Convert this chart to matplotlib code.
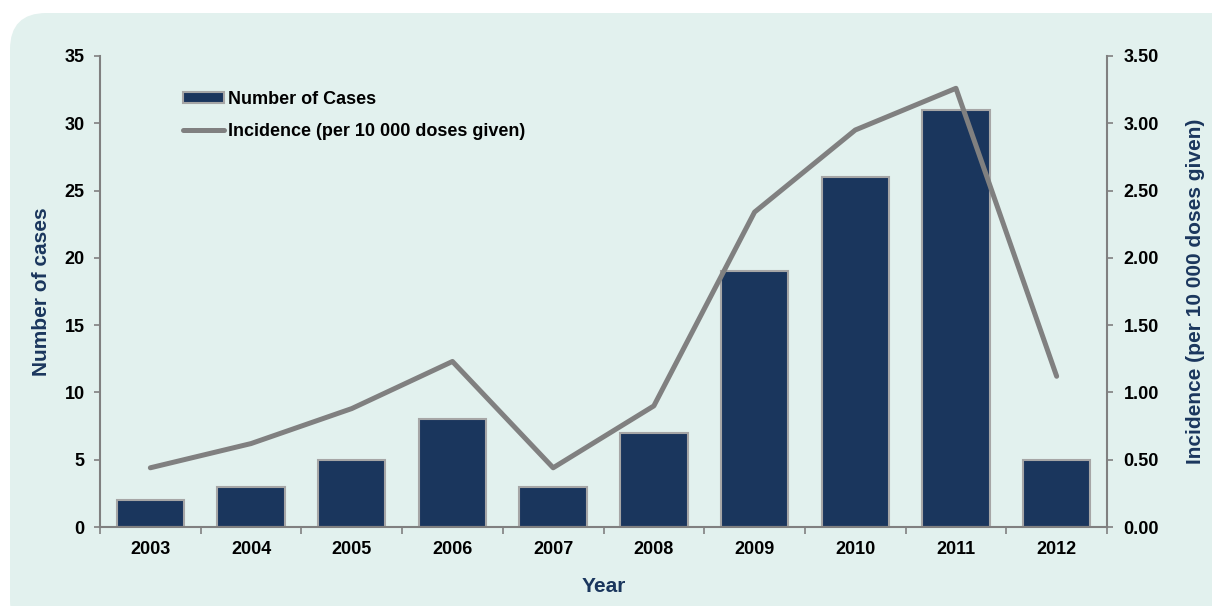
import numpy as np
import matplotlib
matplotlib.use("Agg")
import matplotlib.pyplot as plt
from matplotlib.patches import FancyBboxPatch

years = ["2003", "2004", "2005", "2006", "2007", "2008", "2009", "2010", "2011", "2012"]
cases = [2, 3, 5, 8, 3, 7, 19, 26, 31, 5]
incidence = [0.44, 0.62, 0.88, 1.23, 0.44, 0.90, 2.34, 2.95, 3.26, 1.12]

NAVY = "#1a365d"
GREY = "#808080"
BG = "#e2f1ee"

plt.rcParams["font.family"] = ["Liberation Sans", "DejaVu Sans"]
plt.rcParams["font.weight"] = "bold"

fig = plt.figure(figsize=(12.12, 6.06), dpi=100)
fig.patch.set_facecolor("white")
# rounded light background panel
bg = FancyBboxPatch((10 / 1212, -0.05), 1.2, 0.05 + 593 / 606,
                    boxstyle="round,pad=0,rounding_size=0.03",
                    transform=fig.transFigure, facecolor=BG, edgecolor="none",
                    mutation_aspect=2.0, zorder=-10)
fig.patches.append(bg)

ax = fig.add_axes([100 / 1212, 79 / 606, 1007 / 1212, 471 / 606])
ax.set_facecolor("none")
x = np.arange(len(years))
bars = ax.bar(x, cases, width=0.67, color=NAVY, edgecolor="#a6a6a6", linewidth=1.5,
              label="Number of Cases", zorder=2)
ax.set_xlim(-0.5, len(years) - 0.5)
ax.set_ylim(0, 35)
ax.set_yticks(range(0, 36, 5))
ax.set_xticks(x)
ax.set_xticklabels(years)
ax.set_xticks(np.arange(-0.5, len(years)), minor=True)
ax.tick_params(axis="x", which="major", length=0, pad=10, labelsize=13)
ax.tick_params(axis="x", which="minor", length=5, color=GREY, width=1.2, direction="out")
ax.tick_params(axis="y", length=4, color=GREY, width=1.2, pad=7, labelsize=13)
for s in ["top", "right"]:
    ax.spines[s].set_visible(False)
for s in ["left", "bottom"]:
    ax.spines[s].set_color(GREY)
    ax.spines[s].set_linewidth(1.5)
ax.set_xlabel("Year", color=NAVY, fontsize=15, fontweight="bold", labelpad=14)
ax.set_ylabel("Number of cases", color=NAVY, fontsize=15, fontweight="bold", labelpad=10)

ax2 = ax.twinx()
ax2.set_facecolor("none")
ln, = ax2.plot(x, incidence, color=GREY, linewidth=3.6, solid_capstyle="round",
               label="Incidence (per 10 000 doses given)", zorder=3)
ax2.set_ylim(0, 3.5)
ax2.set_yticks(np.arange(0, 3.51, 0.5))
ax2.set_yticklabels([f"{v:.2f}" for v in np.arange(0, 3.51, 0.5)])
ax2.tick_params(axis="y", length=4, color=GREY, width=1.2, pad=8, labelsize=13)
for s in ["top", "left", "bottom"]:
    ax2.spines[s].set_visible(False)
ax2.spines["right"].set_color(GREY)
ax2.spines["right"].set_linewidth(1.5)
ax2.set_ylabel("Incidence (per 10 000 doses given)", color=NAVY, fontsize=15,
               fontweight="bold", labelpad=19)

leg = ax.legend([bars, ln], ["Number of Cases", "Incidence (per 10 000 doses given)"],
                loc="upper left", bbox_to_anchor=(0.066, 0.96), frameon=False,
                fontsize=13, handlelength=2.3, handleheight=0.6, handletextpad=0.2,
                labelspacing=0.85)
for t in leg.get_texts():
    t.set_fontweight("bold")

fig.savefig("out.png", dpi=100, facecolor=fig.get_facecolor())
